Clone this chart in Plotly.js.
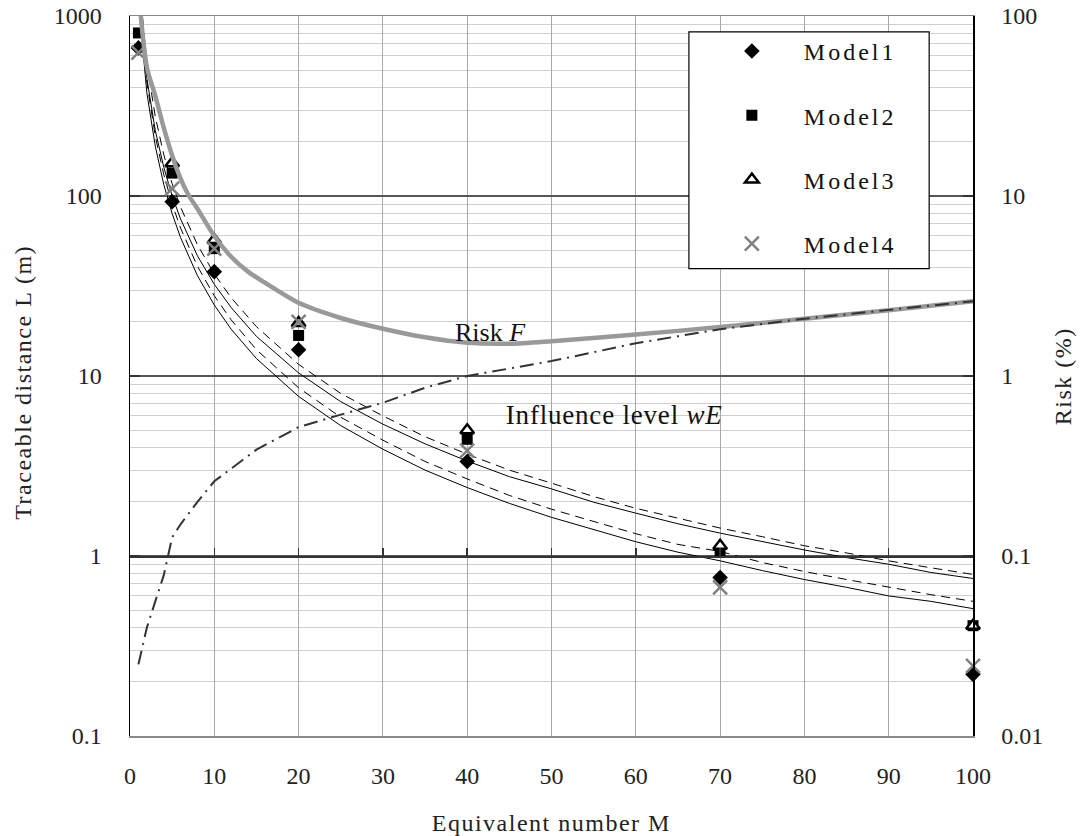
<!DOCTYPE html>
<html>
<head>
<meta charset="utf-8">
<script src="https://cdn.plot.ly/plotly-3.0.1.min.js"></script>
<style>
  html, body { margin: 0; padding: 0; background: #fff; }
  #chart { width: 1085px; height: 836px; }
  .legendtext { letter-spacing: 3px; }
  .annotation[data-index="0"] text, .annotation[data-index="1"] text, .annotation[data-index="2"] text { letter-spacing: 1.5px; }
  .annotation[data-index="4"] text { letter-spacing: 0.8px; }
</style>
</head>
<body>
<div id="chart"></div>
<script>
// ---- data ----
const M_MARK = [1, 5, 10, 20, 40, 70, 100];
const model1 = [665, 93, 38, 14.0, 3.35, 0.76, 0.22];
const model2 = [805, 134, 51, 16.8, 4.45, 1.05, 0.41];
const model3 = [null, 152, 57, 19.7, 5.0, 1.14, 0.41];
const model4 = [625, 110, 51, 20, 3.85, 0.67, 0.245];

const M_CURVE = [1, 2, 3, 4, 5, 6, 8, 10, 12, 15, 20, 25, 30, 35, 40, 45, 50, 55, 60, 65, 70, 75, 80, 85, 90, 95, 100];
const upperSolid  = [1390, 450, 231, 145, 100, 74.5, 46.5, 32.3, 24.0, 16.6, 10.4, 7.2, 5.4, 4.2, 3.37, 2.76, 2.36, 1.99, 1.73, 1.51, 1.34, 1.20, 1.08, 0.98, 0.90, 0.81, 0.75];
const upperDashed = [1730, 543, 276, 170, 117, 86.7, 53.6, 36.9, 27.2, 18.8, 11.6, 8.0, 6.0, 4.6, 3.68, 3.0, 2.54, 2.14, 1.84, 1.62, 1.43, 1.28, 1.14, 1.04, 0.94, 0.86, 0.79];
const lowerDashed = [1390, 428, 215, 132, 90.4, 66.3, 40.7, 27.9, 20.5, 14.0, 8.6, 5.9, 4.4, 3.35, 2.68, 2.17, 1.82, 1.55, 1.33, 1.16, 1.06, 0.92, 0.82, 0.74, 0.67, 0.61, 0.56];
const lowerSolid  = [1206, 374, 189, 116, 79.8, 58.7, 36.1, 24.8, 18.2, 12.5, 7.7, 5.3, 3.92, 3.0, 2.4, 1.96, 1.64, 1.40, 1.20, 1.05, 0.94, 0.83, 0.74, 0.67, 0.60, 0.56, 0.51];

const M_WE = [1, 2, 3, 4, 5, 6, 8, 10, 15, 20, 25, 30, 35, 40, 50, 60, 70, 80, 90, 100];
const influenceWE = [0.25, 0.40, 0.56, 0.78, 1.27, 1.5, 2.0, 2.6, 3.9, 5.2, 6.1, 7.1, 8.6, 10, 12.1, 15.2, 18.2, 20.8, 23.3, 26];

const M_RISK = [1, 2, 3, 4, 5, 6, 7, 8, 10, 12, 14, 16, 20, 25, 30, 35, 40, 45, 50, 60, 70, 80, 90, 100];
const riskPct = [140, 52, 36, 24, 16.8, 12.5, 10, 8.5, 6.0, 4.6, 3.8, 3.3, 2.55, 2.1, 1.83, 1.64, 1.53, 1.51, 1.56, 1.70, 1.87, 2.08, 2.32, 2.6];

const X_TICKS = [0, 10, 20, 30, 40, 50, 60, 70, 80, 90, 100];
const Y_TICKS = [0.1, 1, 10, 100, 1000];
const Y_TICKTEXT = ['0.1', '1', '10', '100', '1000'];
const Y2_TICKS = [0.01, 0.1, 1, 10, 100];
const Y2_TICKTEXT = ['0.01', '0.1', '1', '10', '100'];

const SERIF = 'Liberation Serif, Times New Roman, serif';

// ---- traces ----
function curve(y, dash) {
  return { x: M_CURVE, y: y, type: 'scatter', mode: 'lines', showlegend: false, hoverinfo: 'skip',
           line: { color: '#000', width: 1, dash: dash } };
}
const traces = [
  curve(upperSolid, 'solid'),
  curve(upperDashed, '9px,6px'),
  curve(lowerDashed, '9px,6px'),
  curve(lowerSolid, 'solid'),
  { x: M_WE, y: influenceWE, xaxis: 'x2', type: 'scatter', mode: 'lines', showlegend: false, hoverinfo: 'skip',
    line: { color: '#333', width: 2, dash: '14px,6px,2px,6px' } },
  { x: M_RISK, y: riskPct, yaxis: 'y2', type: 'scatter', mode: 'lines', showlegend: false, hoverinfo: 'skip',
    line: { color: '#999', width: 4.5, shape: 'spline', smoothing: 0.8 } },
  { x: M_MARK, y: model1, name: 'Model1', legendgroup: 'g1', type: 'scatter', mode: 'markers', cliponaxis: false,
    marker: { symbol: 'diamond', size: 12, color: '#000' } },
  { x: M_MARK, y: model2, name: 'Model2', legendgroup: 'g2', type: 'scatter', mode: 'markers', cliponaxis: false,
    marker: { symbol: 'square', size: 11, color: '#000' } },
  { x: M_MARK, y: model3, name: 'Model3', legendgroup: 'g3', type: 'scatter', mode: 'markers', cliponaxis: false,
    marker: { symbol: 'triangle-up', size: 12, color: '#fff', line: { color: '#000', width: 2.5 } } },
  { x: M_MARK, y: model4, name: 'Model4', legendgroup: 'g4', type: 'scatter', mode: 'markers', cliponaxis: false,
    marker: { symbol: 'x-thin-open', size: 14, color: '#808080', line: { color: '#808080', width: 2.5 } } }
];

const layout = {
  width: 1085, height: 836,
  margin: { l: 130, r: 112, t: 16, b: 100 },
  paper_bgcolor: '#fff', plot_bgcolor: '#fff',
  showlegend: true,
  font: { family: SERIF, size: 24, color: '#222' },
  xaxis: {
    range: [0, 100], tickmode: 'array', tickvals: X_TICKS,
    showgrid: true, gridcolor: '#a8a8a8', gridwidth: 1, zeroline: false,
    showline: true, linecolor: '#888', linewidth: 1.5, mirror: true,
    ticks: '', ticklabelstandoff: 18,
    tickfont: { family: SERIF, size: 24, color: '#222' }
  },
  xaxis2: {
    range: [0, 100], overlaying: 'x', anchor: 'free', position: 0.25, side: 'bottom',
    tickmode: 'array', tickvals: X_TICKS, showticklabels: false,
    showgrid: false, zeroline: false,
    showline: true, linecolor: '#333', linewidth: 1.5,
    ticks: 'inside', ticklen: 8, tickwidth: 1.5, tickcolor: '#333'
  },
  yaxis: {
    type: 'log', range: [-1, 3], tickmode: 'array', tickvals: Y_TICKS, ticktext: Y_TICKTEXT,
    showgrid: true, gridcolor: '#555', gridwidth: 1.2, zeroline: false,
    minor: { dtick: 'D1', showgrid: true, gridcolor: '#cfcfcf', gridwidth: 1, ticks: '' },
    showline: true, linecolor: '#000', linewidth: 1.5,
    ticks: 'inside', ticklen: 10, tickwidth: 1.5, tickcolor: '#333',
    ticklabelstandoff: 22,
    tickfont: { family: SERIF, size: 24, color: '#222' }
  },
  yaxis2: {
    type: 'log', range: [-2, 2], overlaying: 'y', side: 'right',
    tickmode: 'array', tickvals: Y2_TICKS, ticktext: Y2_TICKTEXT,
    showgrid: false, zeroline: false,
    showline: true, linecolor: '#000', linewidth: 1.5,
    ticks: 'inside', ticklen: 10, tickwidth: 1.5, tickcolor: '#333',
    ticklabelstandoff: 22,
    tickfont: { family: SERIF, size: 24, color: '#222' }
  },
  legend: {
    x: 0.676, y: 0.982, xanchor: 'left', yanchor: 'top',
    bgcolor: 'rgba(0,0,0,0)', borderwidth: 0,
    font: { family: SERIF, size: 24, color: '#111' },
    itemwidth: 94, tracegroupgap: 30, traceorder: 'grouped'
  },
  shapes: [
    { type: 'rect', xref: 'paper', yref: 'paper', x0: 0.663, x1: 0.948, y0: 0.649, y1: 0.978,
      fillcolor: '#fff', line: { color: '#000', width: 1.2 }, layer: 'above' }
  ],
  annotations: [
    { text: 'Equivalent number M', xref: 'paper', yref: 'paper', x: 0.5, y: -0.121,
      xanchor: 'center', yanchor: 'middle', showarrow: false, font: { family: SERIF, size: 24, color: '#222' } },
    { text: 'Traceable distance L (m)', xref: 'paper', yref: 'paper', x: -0.127, y: 0.492, textangle: -90,
      xanchor: 'center', yanchor: 'middle', showarrow: false, font: { family: SERIF, size: 24, color: '#222' } },
    { text: 'Risk (%)', xref: 'paper', yref: 'paper', x: 1.107, y: 0.5, textangle: -90,
      xanchor: 'center', yanchor: 'middle', showarrow: false, font: { family: SERIF, size: 24, color: '#222' } },
    { text: 'Risk <i>F</i>', xref: 'x', yref: 'y', x: 42.8, y: Math.log10(17.5),
      xanchor: 'center', yanchor: 'middle', showarrow: false, font: { family: SERIF, size: 26, color: '#111' } },
    { text: 'Influence level <i>wE</i>', xref: 'x', yref: 'y', x: 57.5, y: Math.log10(6.05),
      xanchor: 'center', yanchor: 'middle', showarrow: false, font: { family: SERIF, size: 27, color: '#111' } }
  ]
};

Plotly.newPlot('chart', traces, layout, { displayModeBar: false, staticPlot: true });
</script>
</body>
</html>
